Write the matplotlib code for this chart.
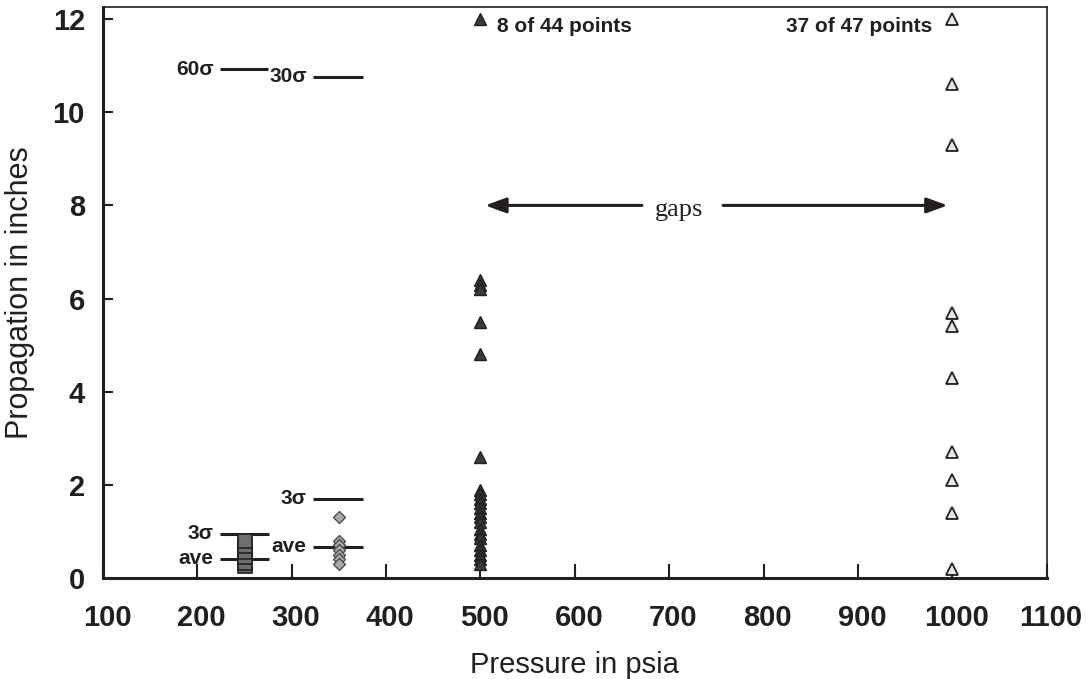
import matplotlib
matplotlib.use("Agg")
import matplotlib.pyplot as plt
from matplotlib.transforms import ScaledTranslation

plt.rcParams['font.family'] = ['Liberation Sans', 'DejaVu Sans']

# ---- data ----
x_sq = 250
y_sq = [0.25, 0.32, 0.45, 0.55, 0.68, 0.8]
x_dia = 350
y_dia = [1.3, 0.8, 0.7, 0.6, 0.5, 0.4, 0.3]
x_fill = 500
y_fill = [12.0, 6.4, 6.3, 6.2, 5.5, 4.8, 2.6, 1.9, 1.8, 1.7, 1.6, 1.5, 1.4, 1.3,
          1.2, 1.05, 0.95, 0.85, 0.7, 0.6, 0.5, 0.4, 0.3]
x_open = 1000
y_open = [12.0, 10.6, 9.3, 5.7, 5.4, 4.3, 2.7, 2.1, 1.4, 0.2]

# reference lines: (label, y, xmin, xmax)
ref_labels = ['3σ', 'ave', '3σ', 'ave', '60σ', '30σ']
ref_y = [0.95, 0.41, 1.7, 0.67, 10.92, 10.76]
ref_xmin = [224, 224, 323, 323, 224, 323]
ref_xmax = [276, 276, 375, 375, 275, 375]

xticks = [100, 200, 300, 400, 500, 600, 700, 800, 900, 1000, 1100]
yticks = [0, 2, 4, 6, 8, 10, 12]

ink = '#231f20'

fig = plt.figure(figsize=(10.86, 6.79), dpi=100)
ax = fig.add_axes([103 / 1086, 1 - 578 / 679, (1046.7 - 103) / 1086, 571 / 679])

ax.plot([x_sq] * len(y_sq), y_sq, ls='none', marker='s', ms=9.5, mfc='#6d6e70',
        mec=ink, mew=1.2, zorder=3)
ax.plot([x_dia] * len(y_dia), y_dia, ls='none', marker='D', ms=6.5, mfc='#a7a9ac',
        mec='#4d4d4f', mew=1.0, zorder=3)
ax.plot([x_fill] * len(y_fill), y_fill, ls='none', marker='^', ms=8.5, mfc='#3a3a3c',
        mec=ink, mew=1.0, zorder=3)
ax.plot([x_open] * len(y_open), y_open, ls='none', marker='^', ms=8.5, mfc='#e6e7e8',
        mec=ink, mew=1.3, zorder=3)

for lab, y, x0, x1 in zip(ref_labels, ref_y, ref_xmin, ref_xmax):
    ax.hlines(y, x0, x1, color=ink, lw=2.2, zorder=2)
    ax.text(x0 - 7, y, lab, ha='right', va='center', fontsize=15,
            fontweight='bold', color=ink)

ax.text(518, 11.85, '8 of 44 points', ha='left', va='center', fontsize=15,
        fontweight='bold', color=ink)
ax.text(979, 11.85, '37 of 47 points', ha='right', va='center', fontsize=15,
        fontweight='bold', color=ink)

# gaps arrows
aprops = dict(arrowstyle='-|>,head_length=0.9,head_width=0.33', lw=2.2,
              color=ink, mutation_scale=14, shrinkA=0, shrinkB=0)
ax.annotate('', xy=(505, 8), xytext=(671, 8), arrowprops=aprops)
ax.annotate('', xy=(995, 8), xytext=(757, 8), arrowprops=aprops)
ax.text(710, 7.9, 'gaps', ha='center', va='center', fontsize=19,
        family=['Liberation Serif', 'DejaVu Serif'], color=ink)

ax.set_xlim(100, 1100)
ax.set_ylim(0, 12.26)
ax.set_xticks(xticks)
ax.set_yticks(yticks)
ax.set_xticklabels([str(v) for v in xticks], fontsize=21, fontweight='bold', color=ink)
ax.set_yticklabels([str(v) for v in yticks], fontsize=21, fontweight='bold', color=ink)
ax.tick_params(axis='x', direction='in', length=10, width=1.5, color=ink, pad=19)
ax.tick_params(axis='y', direction='in', length=7, width=1.5, color=ink, pad=13)

# nudge x tick labels slightly right, as in the reference
for lab in ax.get_xticklabels():
    lab.set_transform(lab.get_transform() + ScaledTranslation(3 / 72, 0, fig.dpi_scale_trans))

for side in ['left', 'bottom']:
    ax.spines[side].set_linewidth(2.2)
    ax.spines[side].set_color(ink)
for side in ['top', 'right']:
    ax.spines[side].set_linewidth(1.2)
    ax.spines[side].set_color(ink)

ax.set_xlabel('Pressure in psia', fontsize=21, color=ink)
ax.set_ylabel('Propagation in inches', fontsize=22, color=ink)
ax.xaxis.set_label_coords(0.5, -0.128)
ax.yaxis.set_label_coords(-0.072, 0.5)

fig.savefig('out.png', dpi=100)
